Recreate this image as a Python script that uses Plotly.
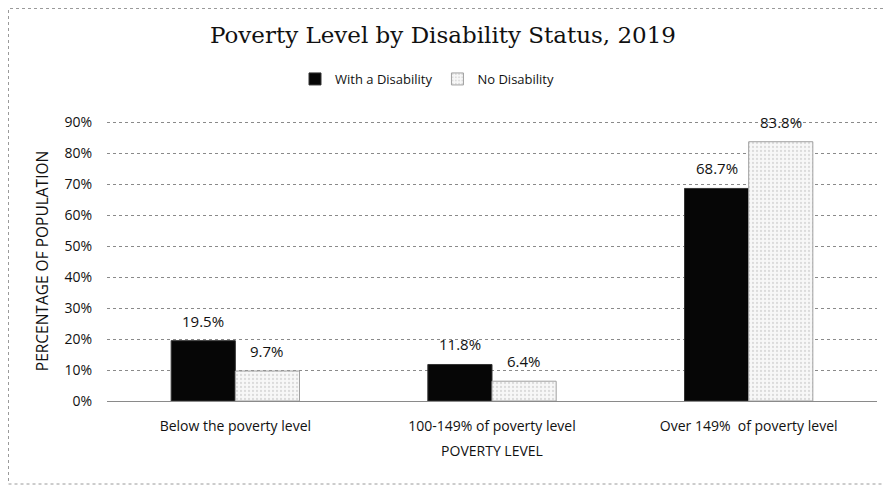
import plotly.graph_objects as go

categories = ["Below the poverty level", "100-149% of poverty level", "Over 149%  of poverty level"]
with_disability = [0.195, 0.118, 0.687]
no_disability = [0.097, 0.064, 0.838]
series_names = ["With a Disability", "No Disability"]
y_ticks = [0, 0.1, 0.2, 0.3, 0.4, 0.5, 0.6, 0.7, 0.8, 0.9]
y_tick_labels = ["0%", "10%", "20%", "30%", "40%", "50%", "60%", "70%", "80%", "90%"]

label_font = "'Open Sans', Lato, sans-serif"
W, H = 883, 480
ML, MR, MT, MB = 99, 14, 113, 87

fig = go.Figure()
fig.add_trace(go.Bar(
    name=series_names[0], x=categories, y=with_disability,
    marker=dict(color="#060606", line=dict(color="#333", width=1)),
))
fig.add_trace(go.Bar(
    name=series_names[1], x=categories, y=no_disability,
    marker=dict(color="#f2f2f2", line=dict(color="#a0a0a0", width=1),
                pattern=dict(shape=".", fgcolor="#bdbdbd", bgcolor="#f7f7f7", size=4, solidity=0.25)),
))

# data labels placed above each bar of the group
bar_half = 32
for vals, sign in ((with_disability, -1), (no_disability, 1)):
    for c, v in zip(categories, vals):
        fig.add_annotation(x=c, y=v, text=f"{v*100:.1f}%", showarrow=False,
                           xshift=sign * bar_half, yshift=20, yanchor="middle",
                           font=dict(size=15, color="#111", family=label_font))

fig.update_layout(
    width=W, height=H,
    paper_bgcolor="white", plot_bgcolor="white",
    margin=dict(l=ML, r=MR, t=MT, b=MB),
    barmode="group", bargap=0.5, bargroupgap=0,
    title=dict(text="Poverty Level by Disability Status, 2019", x=0.4926, xanchor="center",
               y=0.944, yanchor="middle",
               font=dict(family="'DejaVu Serif', 'Liberation Serif', serif", size=23, color="#111")),
    legend=dict(orientation="h", x=0.4156, xanchor="center", y=1.15, yanchor="middle",
                font=dict(family=label_font, size=13, color="#111"), itemwidth=30,
                traceorder="normal"),
    font=dict(family=label_font, color="#111"),
    showlegend=True,
)
fig.update_yaxes(
    range=[0, 0.905], tickvals=y_ticks, ticktext=y_tick_labels,
    showgrid=True, gridcolor="#8a8a8a", griddash="dot", gridwidth=1,
    zeroline=False, showline=False, ticks="", ticklabelstandoff=14,
    tickfont=dict(size=14, family=label_font, color="#111"),
    title=dict(text="PERCENTAGE OF POPULATION", font=dict(size=15.5, family=label_font, color="#111"), standoff=11),
)
fig.update_xaxes(
    showline=True, linecolor="#8a8a8a", ticks="", ticklabelstandoff=12,
    tickfont=dict(size=14, family=label_font, color="#111"),
    title=dict(text="POVERTY LEVEL", font=dict(size=14, family=label_font, color="#111"), standoff=12),
)
pw, ph = W - ML - MR, H - MT - MB
fig.add_shape(type="rect", xref="paper", yref="paper",
              x0=(0.5 - ML) / pw, x1=(878 - ML) / pw,
              y0=(H - MB - 476) / ph, y1=(H - MB - 0.5) / ph,
              line=dict(color="#9a9a9a", width=1, dash="dot"), fillcolor="rgba(0,0,0,0)", layer="below")

fig.write_html("out.html")
